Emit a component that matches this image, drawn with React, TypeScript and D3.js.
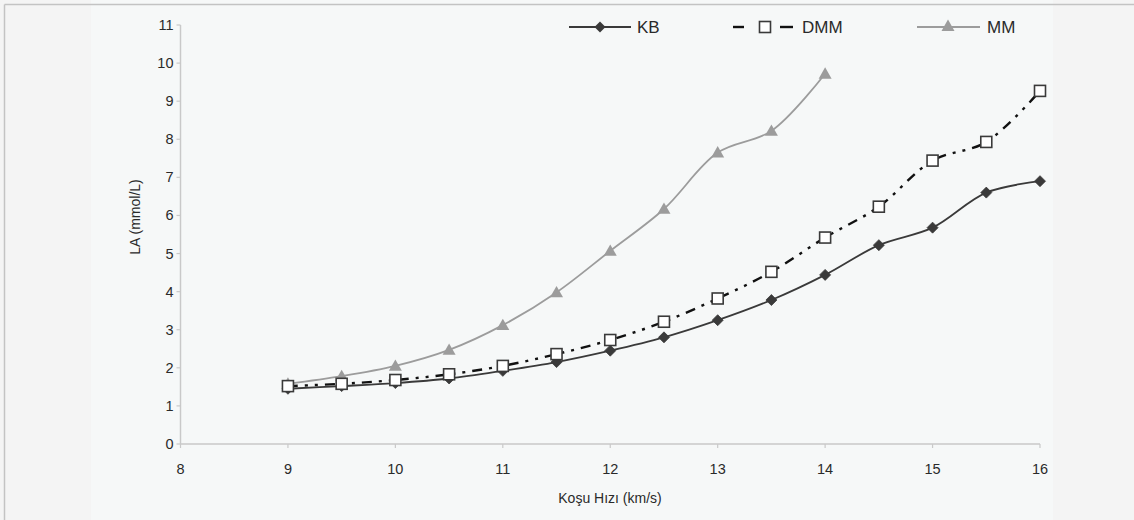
import React from "react";
import * as d3 from "d3";

// Running speed (km/s) and blood lactate (mmol/L) per group
const speedsAll: number[] = [9, 9.5, 10, 10.5, 11, 11.5, 12, 12.5, 13, 13.5, 14, 14.5, 15, 15.5, 16];
const speedsMM: number[] = [9, 9.5, 10, 10.5, 11, 11.5, 12, 12.5, 13, 13.5, 14];
const kbValues: number[] = [1.45, 1.52, 1.6, 1.72, 1.92, 2.15, 2.45, 2.8, 3.25, 3.78, 4.44, 5.22, 5.68, 6.6, 6.9];
const dmmValues: number[] = [1.52, 1.58, 1.68, 1.83, 2.05, 2.36, 2.73, 3.21, 3.82, 4.52, 5.42, 6.23, 7.44, 7.93, 9.27];
const mmValues: number[] = [1.58, 1.78, 2.05, 2.47, 3.12, 3.98, 5.07, 6.17, 7.65, 8.22, 9.72];
const xTicks: number[] = [8, 9, 10, 11, 12, 13, 14, 15, 16];
const yTicks: number[] = [0, 1, 2, 3, 4, 5, 6, 7, 8, 9, 10, 11];
const seriesNames: string[] = ["KB", "DMM", "MM"];

const W = 1134;
const H = 520;
const FONT = "'Liberation Sans', Arial, sans-serif";

export default function App() {
  const x = d3.scaleLinear().domain([8, 16]).range([180.5, 1040]);
  const y = d3.scaleLinear().domain([0, 11]).range([444, 25]);

  const line = d3
    .line<[number, number]>()
    .x((d) => x(d[0]))
    .y((d) => y(d[1]))
    .curve(d3.curveCatmullRom.alpha(0.5));

  const kb = speedsAll.map((s, i) => [s, kbValues[i]] as [number, number]);
  const dmm = speedsAll.map((s, i) => [s, dmmValues[i]] as [number, number]);
  const mm = speedsMM.map((s, i) => [s, mmValues[i]] as [number, number]);

  const diamond = (cx: number, cy: number, r = 5.5) =>
    `M${cx},${cy - r}L${cx + r},${cy}L${cx},${cy + r}L${cx - r},${cy}Z`;
  const triangle = (cx: number, cy: number, r = 6.5) =>
    `M${cx},${cy - r}L${cx + r},${cy + r * 0.75}L${cx - r},${cy + r * 0.75}Z`;

  const kbColor = "#3a3a3a";
  const dmmColor = "#111111";
  const mmColor = "#9c9c9c";
  const axisColor = "#c9c9c9";
  const textColor = "#2a2a2a";
  const dmmDash = "10 7 3 7 3 7";
  const sq = 11;

  return (
    <div style={{ position: "absolute", left: 0, top: 0 }}>
      <svg width={W} height={H} style={{ display: "block" }}>
        <rect x={0} y={0} width={W} height={H} fill="#f4f4f4" />
        <rect x={91} y={0} width={962} height={H} fill="#f6f8f8" />
        {/* frame */}
        <line x1={4.5} y1={4.5} x2={W} y2={4.5} stroke="#c3c3c3" strokeWidth={1.5} />
        <line x1={4.5} y1={4.5} x2={4.5} y2={H} stroke="#c3c3c3" strokeWidth={1.5} />

        {/* y axis */}
        <line x1={x(8)} y1={y(11)} x2={x(8)} y2={y(0)} stroke={axisColor} strokeWidth={1.5} />
        {yTicks.map((t) => (
          <g key={`y${t}`}>
            <line x1={x(8) - 4} x2={x(8)} y1={y(t)} y2={y(t)} stroke={axisColor} strokeWidth={1.2} />
            <text
              x={x(8) - 7}
              y={y(t)}
              textAnchor="end"
              dominantBaseline="central"
              fontFamily={FONT}
              fontSize={14.5}
              fill={textColor}
            >
              {t}
            </text>
          </g>
        ))}

        {/* x axis */}
        <line x1={x(8)} y1={y(0)} x2={x(16)} y2={y(0)} stroke={axisColor} strokeWidth={1.5} />
        {xTicks.map((t) => (
          <g key={`x${t}`}>
            <line x1={x(t)} x2={x(t)} y1={y(0)} y2={y(0) + 4} stroke={axisColor} strokeWidth={1.2} />
            <text
              x={x(t)}
              y={y(0) + 25}
              textAnchor="middle"
              dominantBaseline="central"
              fontFamily={FONT}
              fontSize={14.5}
              fill={textColor}
            >
              {t}
            </text>
          </g>
        ))}

        <text
          x={610}
          y={498}
          textAnchor="middle"
          dominantBaseline="central"
          fontFamily={FONT}
          fontSize={14}
          fill={textColor}
        >
          Koşu Hızı (km/s)
        </text>
        <text
          transform={`translate(135,217) rotate(-90)`}
          textAnchor="middle"
          dominantBaseline="central"
          fontFamily={FONT}
          fontSize={14}
          fill={textColor}
        >
          LA (mmol/L)
        </text>

        {/* series lines */}
        <path d={line(mm) ?? ""} fill="none" stroke={mmColor} strokeWidth={1.8} />
        <path d={line(kb) ?? ""} fill="none" stroke={kbColor} strokeWidth={1.8} />
        <path d={line(dmm) ?? ""} fill="none" stroke={dmmColor} strokeWidth={2.4} strokeDasharray={dmmDash} />

        {/* markers */}
        {mm.map((d, i) => (
          <path key={`m${i}`} d={triangle(x(d[0]), y(d[1]))} fill={mmColor} />
        ))}
        {kb.map((d, i) => (
          <path key={`k${i}`} d={diamond(x(d[0]), y(d[1]))} fill={kbColor} stroke={kbColor} strokeWidth={0.8} />
        ))}
        {dmm.map((d, i) => (
          <rect
            key={`d${i}`}
            x={x(d[0]) - sq / 2}
            y={y(d[1]) - sq / 2}
            width={sq}
            height={sq}
            fill="#ffffff"
            stroke="#3a3a3a"
            strokeWidth={1.6}
          />
        ))}

        {/* legend */}
        <g fontFamily={FONT} fontSize={17} fill={textColor}>
          <line x1={569} x2={631} y1={27} y2={27} stroke={kbColor} strokeWidth={1.8} />
          <path d={diamond(600, 27)} fill={kbColor} />
          <text x={637} y={27} dominantBaseline="central">
            {seriesNames[0]}
          </text>

          <line x1={733} x2={744} y1={27} y2={27} stroke={dmmColor} strokeWidth={2.4} />
          <line x1={780} x2={793} y1={27} y2={27} stroke={dmmColor} strokeWidth={2.4} />
          <rect x={759.5} y={21.5} width={sq} height={sq} fill="#ffffff" stroke="#3a3a3a" strokeWidth={1.6} />
          <text x={802} y={27} dominantBaseline="central">
            {seriesNames[1]}
          </text>

          <line x1={917} x2={980} y1={27} y2={27} stroke={mmColor} strokeWidth={1.8} />
          <path d={triangle(948, 26)} fill={mmColor} />
          <text x={987} y={27} dominantBaseline="central">
            {seriesNames[2]}
          </text>
        </g>
      </svg>
    </div>
  );
}
